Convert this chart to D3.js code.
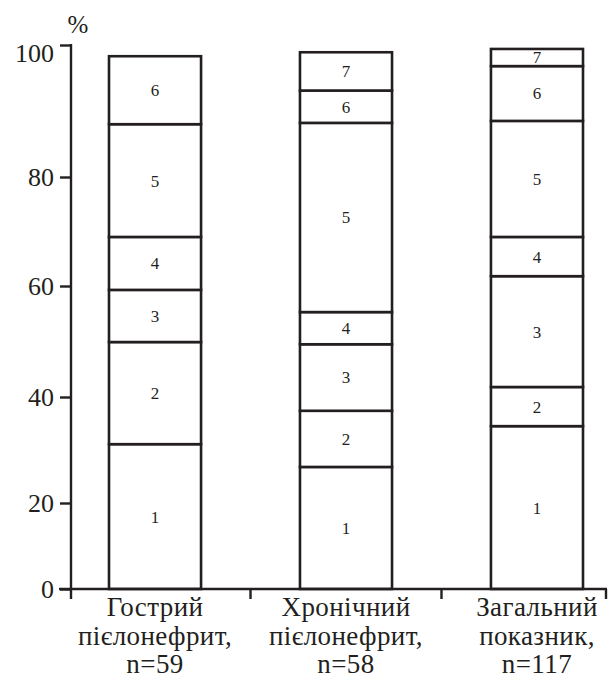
<!DOCTYPE html>
<html><head><meta charset="utf-8">
<script src="https://cdn.jsdelivr.net/npm/d3@7"></script>
<style>body{margin:0;background:#fff}svg{display:block}</style>
</head><body><svg id="c" width="608" height="679"></svg>
<script>
// ---- data ----
const categories = ["Гострий", "Хронічний", "Загальний"];
const categoryLines = [
  ["Гострий", "пієлонефрит,", "n=59"],
  ["Хронічний", "пієлонефрит,", "n=58"],
  ["Загальний", "показник,", "n=117"]
];
const segmentKeys = ["1", "2", "3", "4", "5", "6", "7"];
const seg1 = [31.1, 26.8, 34.5];
const seg2 = [18.8, 10.6, 7.3];
const seg3 = [9.4, 12.1, 20.0];
const seg4 = [9.7, 5.8, 7.2];
const seg5 = [19.0, 32.9, 19.5];
const seg6 = [10.3, 4.9, 8.3];
const seg7 = [0, 5.8, 2.6];
const yTicks = [0, 20, 40, 60, 80, 100];
const unitLabel = "%";

// ---- layout ----
const ink = "#231f20";
const font = "'Liberation Serif', 'Times New Roman', serif";
// the reference axis is hand-calibrated (uneven tick spacing), reproduced by a polylinear range
const yRange = [589, 503, 397, 286, 177, 45];
const axisLeftX = 71, axisRightX = 607;

const svg = d3.select("#c");
const y = d3.scaleLinear().domain(yTicks).range(yRange);
const x = d3.scaleBand().domain(categories).range([109, 583]).paddingInner(0.518).paddingOuter(0);

const segs = [seg1, seg2, seg3, seg4, seg5, seg6, seg7];
const table = categories.map((c, i) => {
  const row = { cat: c };
  segmentKeys.forEach((k, j) => row[k] = segs[j][i]);
  return row;
});
const stacked = d3.stack().keys(segmentKeys)(table);

// bars
const g = svg.append("g");
stacked.forEach(layer => {
  layer.forEach(d => {
    if (d[1] - d[0] <= 0) return;
    const cat = d.data.cat;
    g.append("rect")
      .attr("x", x(cat)).attr("width", x.bandwidth())
      .attr("y", y(d[1])).attr("height", y(d[0]) - y(d[1]))
      .attr("fill", "#fff").attr("stroke", ink).attr("stroke-width", 2.6);
    g.append("text")
      .attr("x", x(cat) + x.bandwidth() / 2)
      .attr("y", (y(d[0]) + y(d[1])) / 2)
      .attr("dy", "0.35em")
      .attr("text-anchor", "middle")
      .style("font-family", font).attr("font-size", 17).attr("fill", ink)
      .text(layer.key);
  });
});

// y axis
const yAxis = d3.axisLeft(y).tickValues(yTicks).tickSize(11).tickPadding(6).tickSizeOuter(0);
const ya = svg.append("g").attr("transform", `translate(${axisLeftX},0)`).call(yAxis);
ya.select(".domain").remove();
ya.selectAll(".tick line").attr("stroke", ink).attr("stroke-width", 2.4);
ya.selectAll(".tick text").style("font-family", font).style("font-size", "26px").attr("fill", ink)
  .attr("dy", d => d === 100 ? "0.62em" : "0.34em");
svg.append("line").attr("x1", axisLeftX).attr("x2", axisLeftX)
  .attr("y1", y(100) - 1).attr("y2", y(0) + 10)
  .attr("stroke", ink).attr("stroke-width", 2.4);

// x axis
svg.append("line").attr("x1", axisLeftX - 12).attr("x2", axisRightX)
  .attr("y1", y(0)).attr("y2", y(0)).attr("stroke", ink).attr("stroke-width", 2.6);
const step = x.step(), bw = x.bandwidth();
const xTickPos = categories.slice(0, -1).map(c => x(c) + bw + (step - bw) / 2).concat([axisRightX - 1]);
xTickPos.forEach(px => {
  svg.append("line").attr("x1", px).attr("x2", px).attr("y1", y(0)).attr("y2", y(0) + 10)
    .attr("stroke", ink).attr("stroke-width", 2.4);
});

// category labels
categories.forEach((c, i) => {
  const t = svg.append("text").attr("text-anchor", "middle")
    .style("font-family", font).attr("font-size", 27).attr("letter-spacing", 0.4).attr("fill", ink);
  categoryLines[i].forEach((line, j) => {
    t.append("tspan").attr("x", x(c) + bw / 2).attr("y", 616 + j * 28.5).text(line);
  });
});

// unit label
svg.append("text").attr("x", 78).attr("y", 33).attr("text-anchor", "middle")
  .style("font-family", font).attr("font-size", 25).attr("fill", ink).text(unitLabel);
</script></body></html>
